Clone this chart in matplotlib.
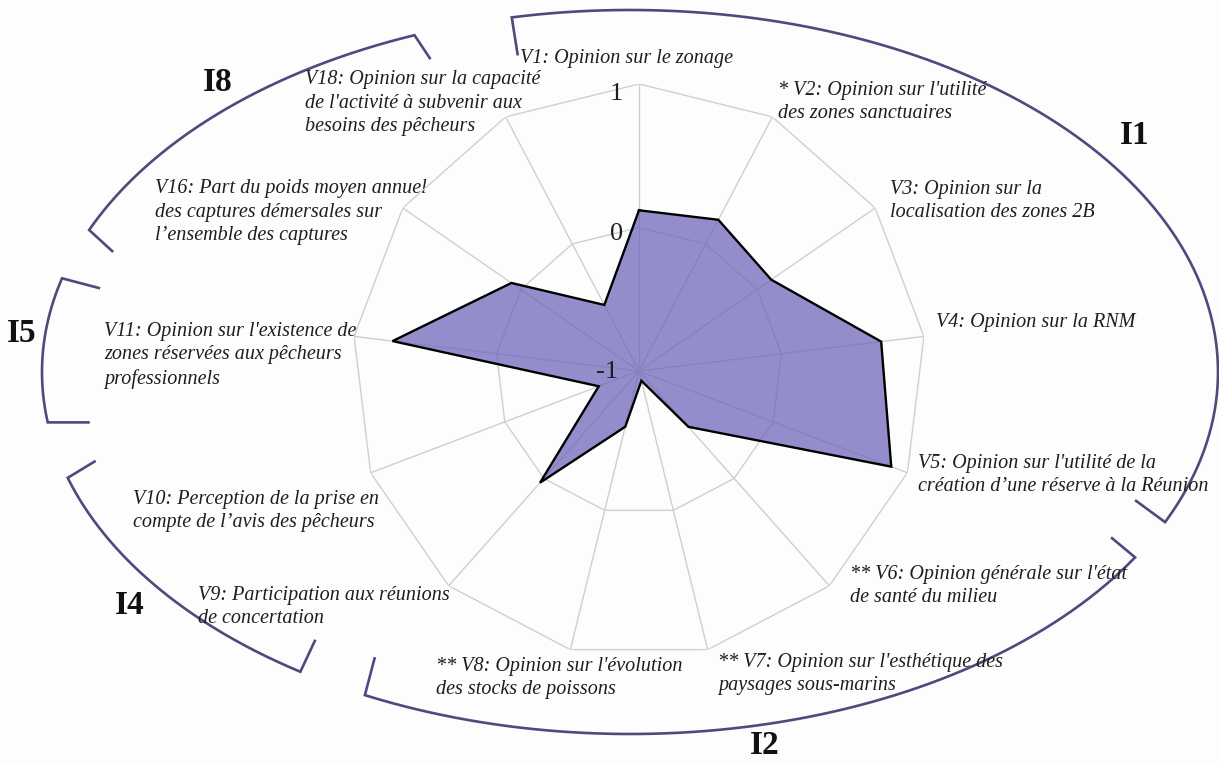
import numpy as np
import matplotlib
matplotlib.use("Agg")
import matplotlib.pyplot as plt

# ---------------- data ----------------
variables = ["V1", "V2", "V3", "V4", "V5", "V6", "V7", "V8", "V9", "V10", "V11", "V16", "V18"]
values = [0.12, 0.19, 0.12, 0.70, 0.88, -0.48, -0.93, -0.60, 0.04, -0.70, 0.73, 0.08, -0.48]
labels = [
    "V1: Opinion sur le zonage",
    "* V2: Opinion sur l'utilité\ndes zones sanctuaires",
    "V3: Opinion sur la\nlocalisation des zones 2B",
    "V4: Opinion sur la RNM",
    "V5: Opinion sur l'utilité de la\ncréation d\u2019une réserve à la Réunion",
    "** V6: Opinion générale sur l'état\nde santé du milieu",
    "** V7: Opinion sur l'esthétique des\npaysages sous-marins",
    "** V8: Opinion sur l'évolution\ndes stocks de poissons",
    "V9: Participation aux réunions\nde concertation",
    "V10: Perception de la prise en\ncompte de l\u2019avis des pêcheurs",
    "V11: Opinion sur l'existence de\nzones réservées aux pêcheurs\nprofessionnels",
    "V16: Part du poids moyen annuel\ndes captures démersales sur\nl\u2019ensemble des captures",
    "V18: Opinion sur la capacité\nde l'activité à subvenir aux\nbesoins des pêcheurs",
]
r_ticks = [-1, 0, 1]
groups = ["I1", "I2", "I4", "I5", "I8"]

# ---------------- layout / style ----------------
W, H = 1219, 765
CX, CY, R = 639, 371, 287
fill_color = "#6A64B8"
grid_color = "#CFCFCF"
bracket_color = "#4B4B7D"
text_color = "#1E1E1E"
serif = ["Liberation Serif", "DejaVu Serif"]
LABEL_FS = 14.5
LINE_PX = 24.0
LINESPACING = 1.31

fig = plt.figure(figsize=(W / 100, H / 100), dpi=100, facecolor="#FDFDFD")

# overlay axes in pixel coordinates for annotations
ov = fig.add_axes([0, 0, 1, 1])
ov.set_xlim(0, W)
ov.set_ylim(H, 0)
ov.axis("off")
ov.patch.set_alpha(0)

# radar (polar) axes
ax = fig.add_axes([(CX - R) / W, (H - CY - R) / H, 2 * R / W, 2 * R / H], projection="polar")
ax.set_theta_zero_location("N")
ax.set_theta_direction(-1)
ax.set_ylim(-1, 1)
ax.grid(False)
ax.spines["polar"].set_visible(False)
ax.set_xticks([])
ax.set_yticks([])
ax.patch.set_alpha(0)

n = len(variables)
theta = np.arange(n) * 2 * np.pi / n
theta_c = np.append(theta, theta[0])

# polygonal grid rings and spokes
for rv in [0, 1]:
    ax.plot(theta_c, [rv] * (n + 1), color=grid_color, lw=1.0, zorder=1)
for th in theta:
    ax.plot([th, th], [-1, 1], color=grid_color, lw=1.0, zorder=1)

vals_c = np.append(values, values[0])
ax.fill(theta_c, vals_c, color=fill_color, alpha=0.72, zorder=2, lw=0)
ax.plot(theta_c, vals_c, color="black", lw=1.7, zorder=3, solid_joinstyle="miter")

# radial tick labels
for rv, dx, dy in zip(r_ticks, [-21, -16, -16], [-1, -7, -10]):
    ax.annotate(str(rv), xy=(0, rv), xytext=(dx, dy), textcoords="offset pixels",
                ha="right", va="center", fontsize=19, family=serif, color=text_color,
                zorder=5)

# variable labels: (x, first-line centre y) in pixels; x is left edge except V1 (centre)
label_pos = [
    (627, 57), (778, 88), (890, 187), (936, 321), (918, 461), (850, 572),
    (718, 660), (436, 664), (198, 593), (133, 497), (104, 330), (155, 186), (305, 77),
]
for i, (txt, (x, y)) in enumerate(zip(labels, label_pos)):
    nl = txt.count("\n")
    ov.text(x, y + 6 + nl * LINE_PX, txt, ha="center" if i == 0 else "left",
            va="baseline", fontsize=LABEL_FS, style="italic",
            family=serif, color=text_color, linespacing=LINESPACING)

# group brackets (elliptical arcs with inward hooks)
ECX, ECY, EA, EB = 630, 372, 588, 362
arcs = [(101.6, -24.5), (-30.8, -116.8), (-124.1, -163.0), (165.0, 188.0), (111.5, 156.9)]
hooks = [((6, 38), (-30, -22)), ((-24, -20), (10, -38)), ((15, -32), (28, -17)),
         ((38, 10), (42, 0)), ((16, 24), (24, 22))]
for (t0, t1), (h0, h1) in zip(arcs, hooks):
    t = np.radians(np.linspace(t0, t1, 200))
    xs = ECX + EA * np.cos(t)
    ys = ECY - EB * np.sin(t)
    px = np.concatenate([[xs[0] + h0[0]], xs, [xs[-1] + h1[0]]])
    py = np.concatenate([[ys[0] + h0[1]], ys, [ys[-1] + h1[1]]])
    ov.plot(px, py, color=bracket_color, lw=1.9, solid_joinstyle="miter", solid_capstyle="butt")

group_pos = [(1135, 135), (765, 745), (130, 605), (22, 333), (218, 82)]
for g, (x, y) in zip(groups, group_pos):
    ov.text(x, y, g, ha="center", va="center", fontsize=24, fontweight="bold",
            family=serif, color="#111111")

fig.savefig("out.png", dpi=100, facecolor=fig.get_facecolor())
